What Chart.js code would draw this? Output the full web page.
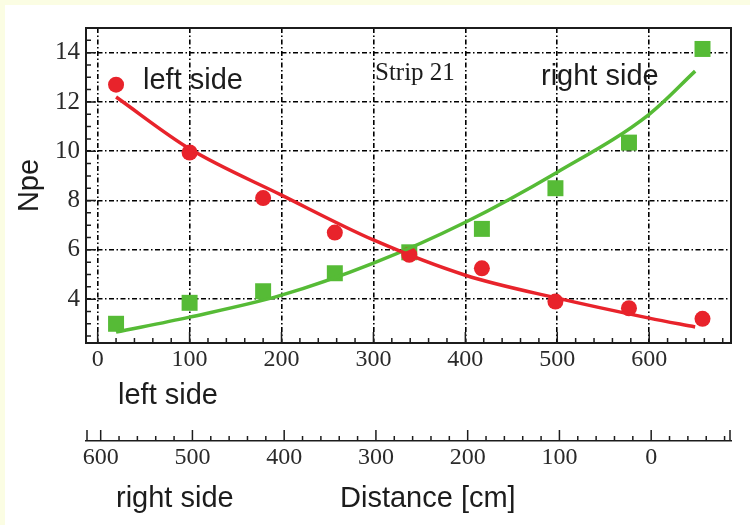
<!DOCTYPE html>
<html>
<head>
<meta charset="utf-8">
<script src="https://cdn.jsdelivr.net/npm/chart.js@4.4.1/dist/chart.umd.min.js"></script>
<style>
  html, body { margin: 0; padding: 0; background: #fbfde3; }
  #wrap { position: absolute; left: 5px; top: 5px; width: 745px; height: 520px; background: #fff; }
</style>
</head>
<body>
<div id="wrap"><canvas id="c"></canvas></div>
<script>
// measured points (Npe vs distance from the left end)
const distance = [20, 100, 180, 258, 339, 418, 498, 578, 658];
const leftSide = [12.7, 9.95, 8.1, 6.7, 5.8, 5.25, 3.9, 3.63, 3.2];
const rightSide = [3.0, 3.85, 4.32, 5.05, 5.9, 6.85, 8.5, 10.35, 14.15];

// fitted curves
const fitDistance = [20, 100, 200, 300, 400, 500, 600, 650];
const leftFit = [12.2, 10.1, 8.22, 6.4, 4.97, 4.04, 3.23, 2.87];
const rightFit = [2.66, 3.27, 4.16, 5.46, 7.12, 9.15, 11.5, 13.25];

const xTicks = [0, 100, 200, 300, 400, 500, 600];
const x2Ticks = [600, 500, 400, 300, 200, 100, 0];
const yTicks = [4, 6, 8, 10, 12, 14];

const RED = '#e8232b';
const GREEN = '#56bb36';
const INK = '#1c1c1c';
const SANS = '"Liberation Sans", Arial, sans-serif';
const SERIF = '"Liberation Serif", "Times New Roman", serif';

const labels = [
  { text: 'left side', x: 138, y: 84, font: '29px ' + SANS },
  { text: 'Strip 21', x: 370, y: 75, font: '25px ' + SERIF },
  { text: 'right side', x: 536, y: 80, font: '29px ' + SANS },
  { text: 'left side', x: 113, y: 399, font: '29px ' + SANS },
  { text: 'right side', x: 111, y: 502, font: '29px ' + SANS },
  { text: 'Distance [cm]', x: 335, y: 502, font: '29px ' + SANS }
];

const pts = (xs, ys) => xs.map((x, i) => ({ x, y: ys[i] }));
const fixTicks = values => scale => { scale.ticks = values.map(v => ({ value: v })); };

// ROOT-like frame: inward ticks, box, and free text
const rootFrame = {
  id: 'rootFrame',
  afterDraw(chart) {
    const { ctx, chartArea: a, scales } = chart;
    ctx.save();
    ctx.strokeStyle = INK;
    ctx.lineWidth = 1.5;
    ctx.beginPath();
    for (let v = 2.5; v <= 15; v += 0.5) {
      const y = scales.y.getPixelForValue(v);
      const len = v % 2 === 0 ? 10 : 5;
      ctx.moveTo(a.left, y); ctx.lineTo(a.left + len, y);
    }
    for (let v = 0; v <= 680; v += 20) {
      const x = scales.x.getPixelForValue(v);
      const len = v % 100 === 0 ? 11 : 5;
      ctx.moveTo(x, a.bottom); ctx.lineTo(x, a.bottom - len);
    }
    const s2 = scales.x2;
    for (let v = -80; v <= 600; v += 20) {
      const x = s2.getPixelForValue(v);
      const len = v % 100 === 0 ? 11 : 5;
      ctx.moveTo(x, s2.top); ctx.lineTo(x, s2.top - len);
    }
    ctx.moveTo(s2.left + 1, s2.top); ctx.lineTo(s2.left + 1, s2.top - 11);
    ctx.moveTo(s2.right - 1, s2.top); ctx.lineTo(s2.right - 1, s2.top - 11);
    ctx.stroke();

    ctx.lineWidth = 2;
    ctx.strokeRect(a.left, a.top, a.right - a.left, a.bottom - a.top);

    ctx.fillStyle = INK;
    ctx.textBaseline = 'alphabetic';
    ctx.textAlign = 'left';
    labels.forEach(l => { ctx.font = l.font; ctx.fillText(l.text, l.x, l.y); });
    ctx.restore();
  }
};

const gridOpts = { color: '#000', lineWidth: 1.6, drawTicks: false };
const dash = { display: false, dash: [5, 2.5, 1.5, 2.5] };
const tickFont = { family: SERIF, size: 24 };

new Chart(document.getElementById('c'), {
  type: 'scatter',
  data: {
    datasets: [
      { label: 'left fit', data: pts(fitDistance, leftFit), showLine: true, borderColor: RED, borderWidth: 3.5, pointRadius: 0, cubicInterpolationMode: 'monotone' },
      { label: 'right fit', data: pts(fitDistance, rightFit), showLine: true, borderColor: GREEN, borderWidth: 3.5, pointRadius: 0, cubicInterpolationMode: 'monotone' },
      { label: 'left side', data: pts(distance, leftSide), pointStyle: 'circle', pointRadius: 8, backgroundColor: RED, borderColor: RED, borderWidth: 0 },
      { label: 'right side', data: pts(distance, rightSide), pointStyle: 'rect', pointRadius: 11.3, backgroundColor: GREEN, borderColor: GREEN, borderWidth: 0 }
    ]
  },
  options: {
    responsive: true,
    maintainAspectRatio: false,
    animation: false,
    events: [],
    layout: { padding: { top: 23, right: 19, left: 0, bottom: 0 } },
    plugins: { legend: { display: false }, tooltip: { enabled: false } },
    scales: {
      x: {
        type: 'linear', position: 'bottom', min: -12.7, max: 689,
        afterBuildTicks: fixTicks(xTicks),
        afterFit: s => { s.height = 98; },
        grid: gridOpts, border: dash,
        ticks: { padding: 2, color: '#2a2a2a', font: tickFont }
      },
      x2: {
        type: 'linear', position: 'bottom', reverse: true, min: -87, max: 616,
        afterBuildTicks: fixTicks(x2Ticks),
        afterFit: s => { s.height = 84; },
        grid: { display: false, drawTicks: false },
        border: { display: true, color: INK, width: 1.5 },
        ticks: { padding: 2, color: '#2a2a2a', font: tickFont }
      },
      y: {
        type: 'linear', min: 2.22, max: 15,
        afterBuildTicks: fixTicks(yTicks),
        afterFit: s => { s.width = 81; },
        grid: gridOpts, border: dash,
        ticks: { padding: 6, color: '#2a2a2a', font: { family: SERIF, size: 25 } },
        title: { display: true, text: 'Npe', color: INK, padding: { top: 8, bottom: 0 }, font: { family: SANS, size: 29 } }
      }
    }
  },
  plugins: [rootFrame]
});
</script>
</body>
</html>
